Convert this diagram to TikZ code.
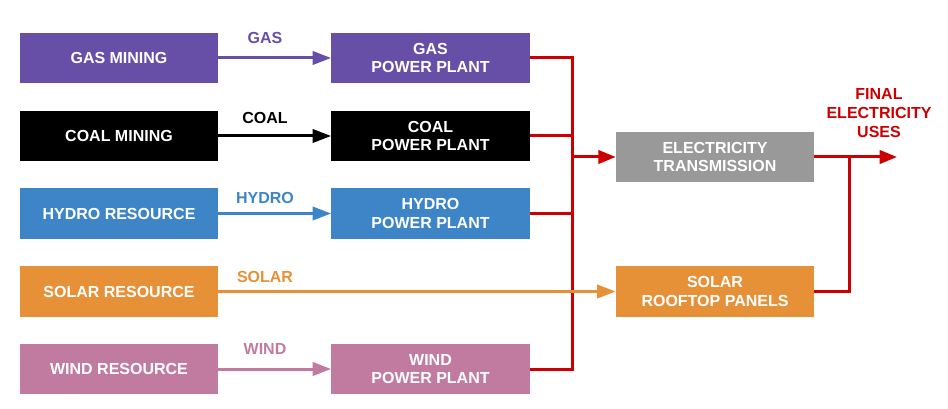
\documentclass[tikz,border=0pt]{standalone}
\usepackage{fontspec}
\setmainfont{Liberation Sans}
\usetikzlibrary{arrows.meta}
\definecolor{gaspurple}{HTML}{674EA7}
\definecolor{hydroblue}{HTML}{3D85C6}
\definecolor{solarorange}{HTML}{E69138}
\definecolor{windpink}{HTML}{C27BA0}
\definecolor{gridgray}{HTML}{999999}
\definecolor{elecred}{HTML}{CC0000}
\begin{document}
\begin{tikzpicture}[x=0.75pt, y=-0.75pt,
	box/.style={rectangle, minimum width=149pt, minimum height=38pt, inner sep=0pt, outer sep=0pt, text=white, align=center, font=\bfseries\fontsize{12}{14}\selectfont},
	lbl/.style={inner sep=0pt, align=center, font=\bfseries\fontsize{12}{14.4}\selectfont},
	feed/.style={line width=2.25pt, -{Triangle[length=14pt, width=10pt]}},
	elec/.style={line width=2.25pt, draw=elecred}]
	\useasboundingbox (0,0) rectangle (948,409);
	\node (GM) at (119, 58)		[box, fill = gaspurple]	{GAS MINING};
	\node (CM) at (119, 136)	[box, fill = black]		{COAL MINING};
	\node (HR) at (119, 213.5)	[box, fill = hydroblue]	{HYDRO RESOURCE};
	\node (SR) at (119, 291.5)	[box, fill = solarorange]	{SOLAR RESOURCE};
	\node (WR) at (119, 369)	[box, fill = windpink]	{WIND RESOURCE};
	\node (GP) at (430.5, 58)	[box, fill = gaspurple]	{GAS\\POWER PLANT};
	\node (CP) at (430.5, 136)	[box, fill = black]		{COAL\\POWER PLANT};
	\node (HP) at (430.5, 213.5)	[box, fill = hydroblue]	{HYDRO\\POWER PLANT};
	\node (WP) at (430.5, 369)	[box, fill = windpink]	{WIND\\POWER PLANT};
	\node (ET) at (715, 157)	[box, fill = gridgray]	{ELECTRICITY\\TRANSMISSION};
	\node (RP) at (715, 291.5)	[box, fill = solarorange]	{SOLAR\\ROOFTOP PANELS};
	\node (gaslbl) at (265, 38)		[lbl, text = gaspurple]	{GAS};
	\node (coallbl) at (265, 117.5)	[lbl, text = black]		{COAL};
	\node (hydrolbl) at (265, 197.5)	[lbl, text = hydroblue]	{HYDRO};
	\node (solarlbl) at (265, 277)	[lbl, text = solarorange]	{SOLAR};
	\node (windlbl) at (265, 349)	[lbl, text = windpink]	{WIND};
	\node (uses) at (879, 113)		[lbl, text = elecred]	{FINAL\\ELECTRICITY\\USES};
	\coordinate (bustop) at (572, 58);
	\coordinate (busbot) at (572, 369);
	\coordinate (busmid) at (572, 157);
	\coordinate (join) at (849, 157);
	\coordinate (out) at (897, 157);
	\draw[elec] (GP) -- (bustop) -- (busbot) -- (WP);
	\draw[elec] (CP) -- (CP -| bustop);
	\draw[elec] (HP) -- (HP -| bustop);
	\draw[elec, -{Triangle[length=13pt, width=10pt]}] (busmid) -- (ET);
	\draw[elec, -{Triangle[length=13pt, width=10pt]}] (ET) -- (out);
	\draw[elec] (RP) -| (join);
	\draw[feed, gaspurple] (GM) -- (GP);
	\draw[feed, black] (CM) -- (CP);
	\draw[feed, hydroblue] (HR) -- (HP);
	\draw[feed, solarorange] (SR) -- (RP);
	\draw[feed, windpink] (WR) -- (WP);
\end{tikzpicture}
\end{document}
